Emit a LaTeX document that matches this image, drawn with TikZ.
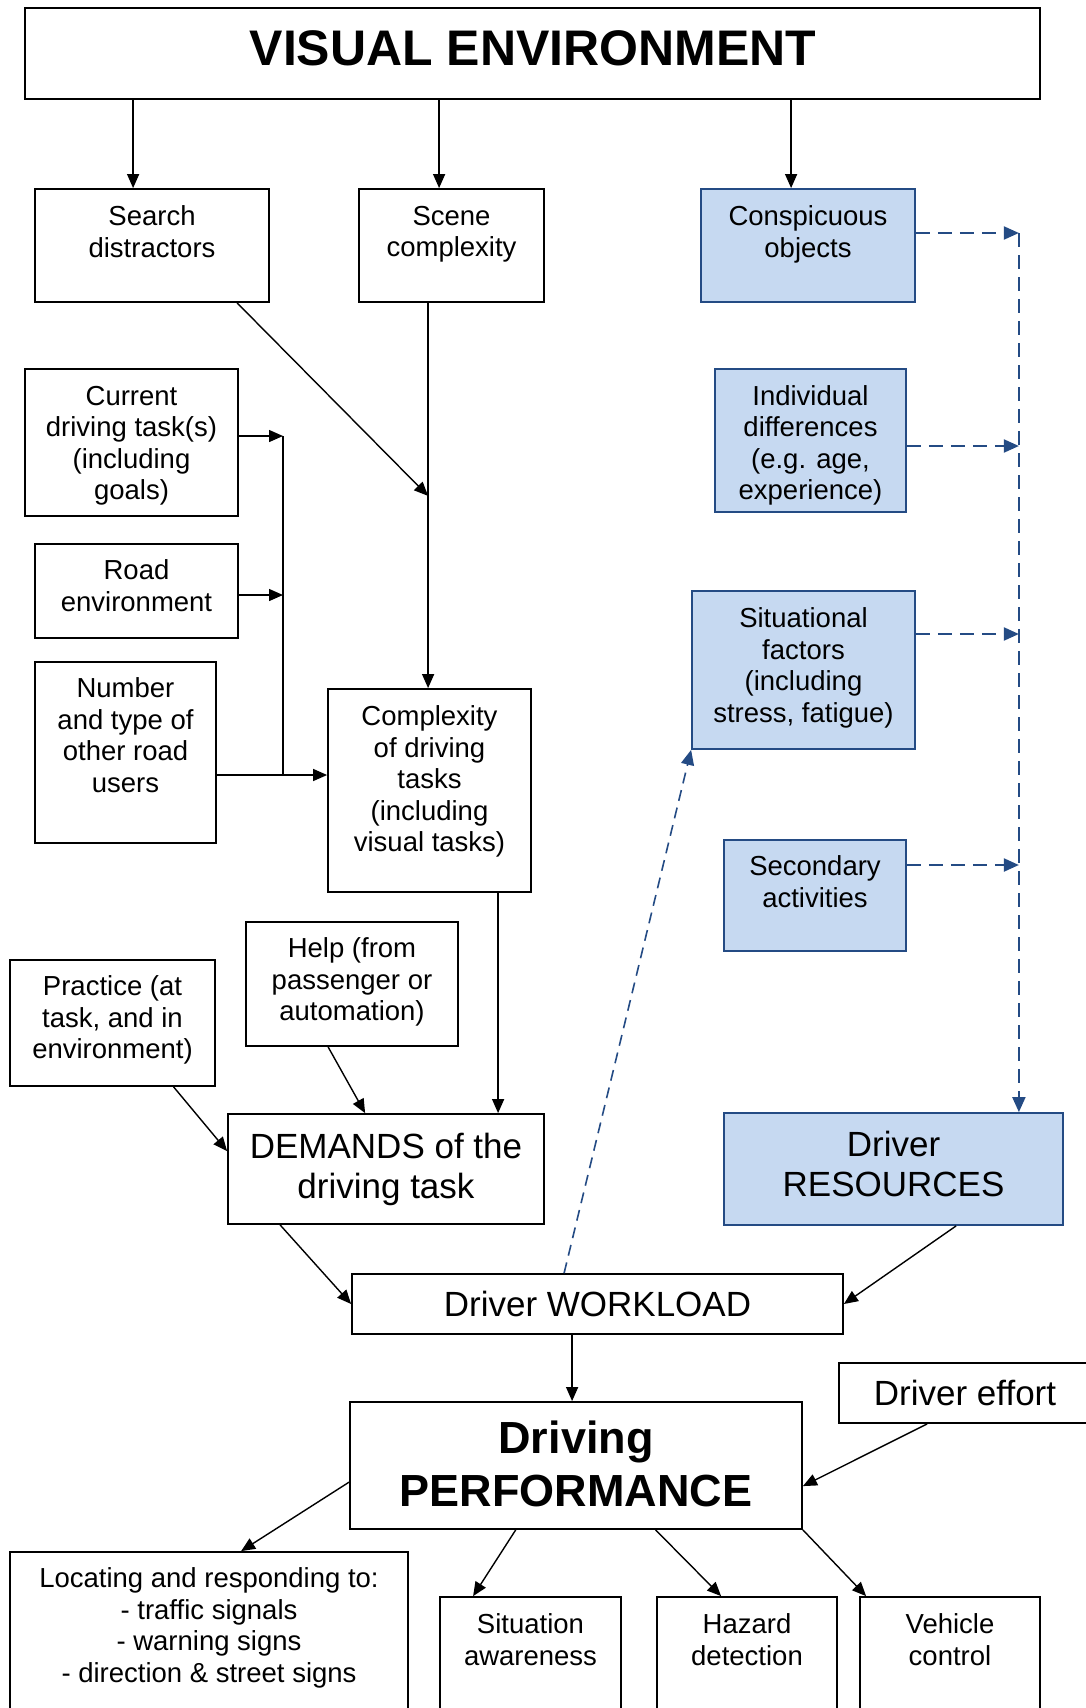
\documentclass[tikz,border=0pt]{standalone}
\usepackage{fontspec}
\setmainfont{Liberation Sans}
\usetikzlibrary{arrows.meta,calc}
\definecolor{bluefill}{RGB}{198,217,241}
\definecolor{blueline}{RGB}{36,75,132}
\newcommand\fnorm{\fontsize{27.5}{31.5}\selectfont}
\newcommand\fbig{\fontsize{35}{40}\selectfont}
\newcommand\fperf{\fontsize{45}{53}\selectfont\bfseries}
\newcommand\fhead{\fontsize{50}{58}\selectfont\bfseries}
\begin{document}
\begin{tikzpicture}[x=1pt,y=-1pt,
  box/.style 2 args={draw=black, line width=1.8pt, fill=white, inner sep=0pt,
    minimum width=#1, minimum height=#2},
  bbox/.style 2 args={draw=blueline, line width=1.8pt, fill=bluefill, inner sep=0pt,
    minimum width=#1, minimum height=#2},
  tn/.style={inner sep=0pt, outer sep=0pt, align=center, anchor=north,
    execute at begin node=\strut, execute at end node=\strut},
  line/.style={draw=black, line width=1.4pt},
  arr/.style={line, -{Triangle[length=14pt,width=12pt]}},
  darr/.style={draw=blueline, line width=2pt, dash pattern=on 14pt off 8pt,
    -{Triangle[length=15pt,width=13pt]}},
  tarr/.style={draw=blueline, line width=1.6pt, dash pattern=on 11pt off 7pt,
    -{Triangle[length=15pt,width=13pt]}}
]
\useasboundingbox (0,0) rectangle (1086,1708);
\clip (0,0) rectangle (1086,1708);

% ---------- boxes ----------
\node[box={1015pt}{91pt}] (ve) at (532.5,53.5) {};
\node[box={234pt}{113pt}] (sd) at (152,245.5) {};
\node[box={185pt}{113pt}] (sc) at (451.5,245.5) {};
\node[bbox={214pt}{113pt}] (co) at (808,245.5) {};
\node[box={213pt}{147pt}] (cd) at (131.5,442.5) {};
\node[box={203pt}{94pt}] (re) at (136.5,591) {};
\node[box={181pt}{181pt}] (nu) at (125.5,752.5) {};
\node[box={203pt}{203pt}] (cx) at (429.5,790.5) {};
\node[bbox={191pt}{143pt}] (id) at (810.5,440.5) {};
\node[bbox={223pt}{158pt}] (sf) at (803.5,670) {};
\node[bbox={182pt}{111pt}] (sa) at (815,895.5) {};
\node[box={205pt}{126pt}] (pr) at (112.5,1023) {};
\node[box={212pt}{124pt}] (he) at (352,984) {};
\node[box={316pt}{110pt}] (de) at (386,1169) {};
\node[bbox={339pt}{112pt}] (dr) at (893.5,1169) {};
\node[box={491pt}{60pt}] (wl) at (597.5,1304) {};
\node[box={452pt}{127pt}] (pf) at (576,1465.5) {};
\node[box={253pt}{60pt}] (ef) at (965.5,1393) {};
\node[box={398pt}{208pt}] (lo) at (209,1656) {};
\node[box={181pt}{163pt}] (si) at (530.5,1678.5) {};
\node[box={180pt}{163pt}] (hz) at (747,1678.5) {};
\node[box={180pt}{163pt}] (vc) at (950,1678.5) {};

% ---------- texts ----------
\node[tn, font=\fhead] (ve-t) at (533,24.5) {VISUAL ENVIRONMENT};
\node[tn, font=\fnorm] (sd-t) at (152,206) {Search\\distractors};
\node[tn, font=\fnorm] (sc-t) at (451.5,206) {Scene\\complexity};
\node[tn, font=\fnorm] (co-t) at (808,206) {Conspicuous\\objects};
\node[tn, font=\fnorm] (cd-t) at (131.5,386) {Current\\driving task(s)\\(including\\goals)};
\node[tn, font=\fnorm] (re-t) at (136.5,560) {Road\\environment};
\node[tn, font=\fnorm] (nu-t) at (125.5,678) {Number\\and type of\\other road\\users};
\node[tn, font=\fnorm] (cx-t) at (429.5,706) {Complexity\\of driving\\tasks\\(including\\visual tasks)};
\node[tn, font=\fnorm] (id-t) at (810.5,385.5) {Individual\\differences\\(e.g. age,\\experience)};
\node[tn, font=\fnorm] (sf-t) at (803.5,608) {Situational\\factors\\(including\\stress, fatigue)};
\node[tn, font=\fnorm] (sa-t) at (815,856) {Secondary\\activities};
\node[tn, font=\fnorm] (pr-t) at (112.5,976) {Practice (at\\task, and in\\environment)};
\node[tn, font=\fnorm] (he-t) at (352,938) {Help (from\\passenger or\\automation)};
\node[tn, font=\fbig] (de-t) at (386,1133) {DEMANDS of the\\driving task};
\node[tn, font=\fbig] (dr-t) at (893.5,1131.5) {Driver\\RESOURCES};
\node[tn, font=\fbig] (wl-t) at (597.5,1288) {Driver WORKLOAD};
\node[tn, font=\fbig] (ef-t) at (965,1377) {Driver effort};
\node[tn, font=\fperf] (pf-t) at (576,1421) {Driving\\PERFORMANCE};
\node[tn, font=\fnorm] (lo-t) at (209,1568) {Locating and responding to:\\- traffic signals\\- warning signs\\- direction \& street signs};
\node[tn, font=\fnorm] (si-t) at (530.5,1614) {Situation\\awareness};
\node[tn, font=\fnorm] (hz-t) at (747,1614) {Hazard\\detection};
\node[tn, font=\fnorm] (vc-t) at (950,1614) {Vehicle\\control};

% ---------- from the visual environment ----------
\coordinate (a1) at ($(sd.north west)+(99,0)$);
\coordinate (a2) at ($(sc.north west)+(81,0)$);
\coordinate (a3) at ($(co.north west)+(91,0)$);
\draw[arr] (a1 |- ve.south) -- (a1);
\draw[arr] (a2 |- ve.south) -- (a2);
\draw[arr] (a3 |- ve.south) -- (a3);

% ---------- towards complexity of driving tasks ----------
\coordinate (s1) at ($(sd.south west)+(203,0)$);
\coordinate (c1) at ($(sc.south west)+(70,0)$);
\coordinate (m1) at ($(sc.south west)+(70,193)$);
\draw[arr] (s1) -- (m1);
\draw[arr] (c1) -- (c1 |- cx.north);

\coordinate (j1) at (283,436);
\coordinate (j2) at (283,595);
\coordinate (j3) at (283,775);
\draw[line] (j1) -- (j3);
\draw[arr] (cd.east |- j1) -- (j1);
\draw[arr] (re.east |- j2) -- (j2);
\draw[arr] (nu.east |- j3) -- (j3 -| cx.west);

% ---------- demands ----------
\coordinate (c2) at ($(cx.south west)+(171,0)$);
\draw[arr] (c2) -- (c2 |- de.north);
\draw[arr] ($(he.south west)+(83,0)$) -- ($(de.north west)+(138,0)$);
\draw[arr] ($(pr.south west)+(164.5,0)$) -- ($(de.north west)+(0,38)$);

% ---------- workload ----------
\draw[arr] ($(de.south west)+(53,0)$) -- (wl.west);
\draw[arr] ($(dr.south west)+(233,0)$) -- (wl.east);
\coordinate (w1) at ($(wl.south west)+(221,0)$);
\draw[arr] (w1) -- (w1 |- pf.north);
\draw[tarr] ($(wl.north west)+(213,0)$) -- (sf.south west);

% ---------- performance ----------
\draw[arr] ($(ef.south west)+(89,0)$) -- ($(pf.north east)+(0,85)$);
\draw[arr] ($(pf.north west)+(0,81)$) -- ($(lo.north west)+(232,0)$);
\draw[arr] ($(pf.south west)+(166.6,0)$) -- ($(si.north west)+(34,0)$);
\draw[arr] ($(pf.south west)+(306.5,0)$) -- ($(hz.north west)+(65,0)$);
\draw[arr] (pf.south east) -- ($(vc.north west)+(7,0)$);

% ---------- driver resources bus ----------
\coordinate (b1) at ($(co.east)+(103,-12.5)$);
\coordinate (b2) at (b1 |- {$(id.east)+(0,5.5)$});
\coordinate (b3) at (b1 |- {$(sf.east)+(0,-36)$});
\coordinate (b4) at (b1 |- {$(sa.east)+(0,-30.5)$});
\draw[darr] ($(co.east)+(0,-12.5)$) -- (b1);
\draw[darr] ($(id.east)+(0,5.5)$) -- (b2);
\draw[darr] ($(sf.east)+(0,-36)$) -- (b3);
\draw[darr] ($(sa.east)+(0,-30.5)$) -- (b4);
\draw[darr] (b1) -- (b1 |- dr.north);
\end{tikzpicture}
\end{document}
